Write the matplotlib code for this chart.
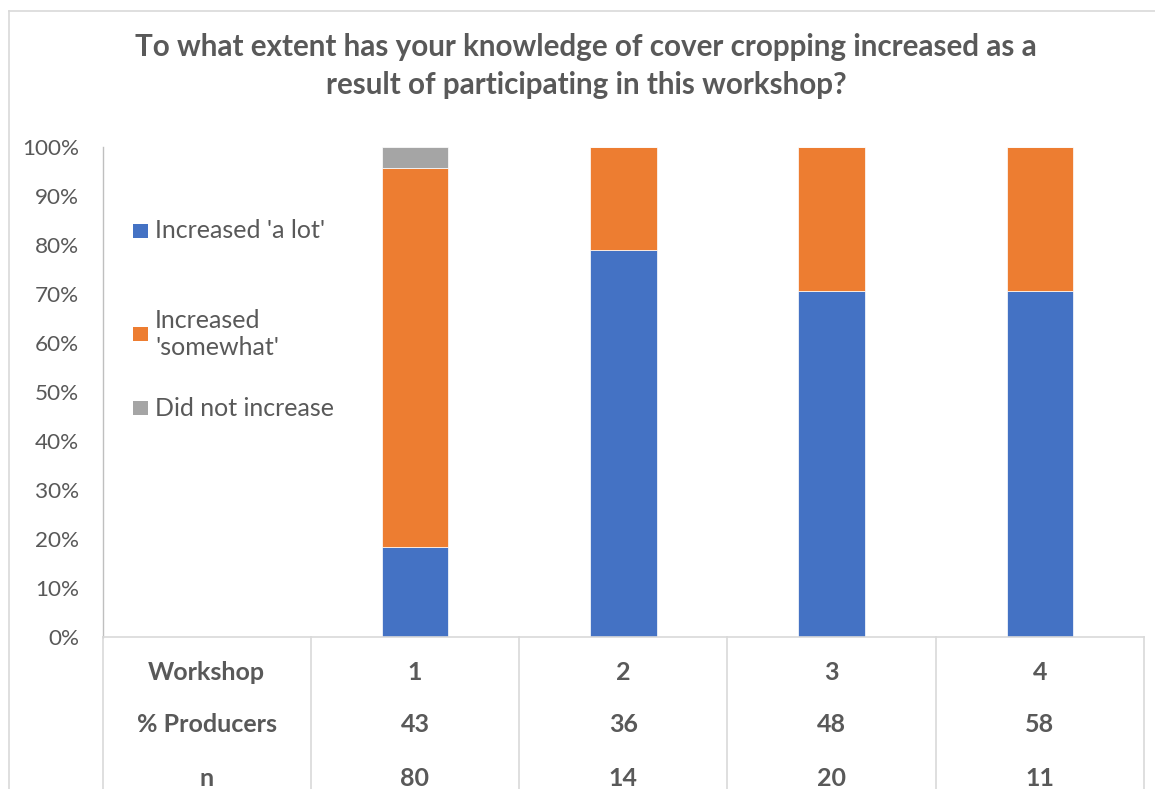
import matplotlib
matplotlib.use("Agg")
import matplotlib.pyplot as plt
from matplotlib.patches import Rectangle
from matplotlib.lines import Line2D
import matplotlib.transforms as mtransforms

plt.rcParams['font.family'] = ['Lato', 'DejaVu Sans']

# ---- data ----
workshops = ["1", "2", "3", "4"]
pct_producers = ["43", "36", "48", "58"]
n_values = ["80", "14", "20", "11"]
row_labels = ["Workshop", "% Producers", "n"]
series_names = ["Increased 'a lot'", "Increased\n'somewhat'", "Did not increase"]
a_lot = [18.4, 79.0, 70.6, 70.6]
somewhat = [77.4, 21.0, 29.4, 29.4]
not_increase = [4.2, 0.0, 0.0, 0.0]
colors = ["#4472C4", "#ED7D31", "#A5A5A5"]
title = ("To what extent has your knowledge of cover cropping increased as a\n"
         "result of participating in this workshop?")
text_color = "#595959"

W, H = 1155, 789
fig = plt.figure(figsize=(W / 100, H / 100), dpi=100)
left, right, bottom_px, top_px = 102.5, 1144, 637, 147
ax = fig.add_axes([left / W, (H - bottom_px) / H, (right - left) / W, (bottom_px - top_px) / H])

# category 0 is the empty first slot holding the row labels / legend
xs = [i + 1 for i in range(len(workshops))]
bw = 0.32
ax.bar(xs, a_lot, bw, color=colors[0], edgecolor="white", linewidth=0.5)
ax.bar(xs, somewhat, bw, bottom=a_lot, color=colors[1], edgecolor="white", linewidth=0.5)
bottoms3 = [a + s for a, s in zip(a_lot, somewhat)]
ax.bar(xs, not_increase, bw, bottom=bottoms3, color=colors[2], edgecolor="white", linewidth=0.5)

ax.set_xlim(-0.5, len(workshops) + 0.5)
ax.set_ylim(0, 100)
ax.set_yticks(range(0, 101, 10))
ax.set_yticklabels([f"{v}%" for v in range(0, 101, 10)], fontsize=16.2, color=text_color)
ax.tick_params(axis='y', length=0, pad=17)
ax.set_xticks([])
for s in ["top", "right"]:
    ax.spines[s].set_visible(False)
ax.spines["left"].set_color("#bfbfbf")
ax.spines["left"].set_linewidth(1.0)
ax.spines["bottom"].set_color("#d9d9d9")
ax.spines["bottom"].set_linewidth(1.2)

# multi-level category table below axis
trans = mtransforms.blended_transform_factory(ax.transData, ax.transAxes)
row_y = [(bottom_px - 672) / (bottom_px - top_px),
         (bottom_px - 725) / (bottom_px - top_px),
         (bottom_px - 778) / (bottom_px - top_px)]
rows = [workshops, pct_producers, n_values]
for ry, lab, vals in zip(row_y, row_labels, rows):
    ax.text(0, ry, lab, transform=trans, ha="center", va="center",
            fontsize=18, fontweight="bold", color=text_color, clip_on=False)
    for x, v in zip(xs, vals):
        ax.text(x, ry, v, transform=trans, ha="center", va="center",
                fontsize=18, fontweight="bold", color=text_color, clip_on=False)
ybot = -(H - bottom_px) / (bottom_px - top_px)
for k in range(len(workshops) + 2):
    ax.add_line(Line2D([k - 0.5, k - 0.5], [0, ybot], transform=trans,
                       color="#d9d9d9", linewidth=1.2, clip_on=False))

# chart area border (top and left visible)
fig.add_artist(Line2D([9 / W, 1.0], [1 - 11 / H, 1 - 11 / H], color="#d9d9d9", linewidth=1.2))
fig.add_artist(Line2D([9 / W, 9 / W], [0, 1 - 11 / H], color="#d9d9d9", linewidth=1.2))

# legend (manual, in the empty first slot)
leg_y = [231, 334, 408]
for c, name, ly in zip(colors, series_names, leg_y):
    fig.add_artist(Rectangle((133 / W, 1 - (ly + 7) / H), 15 / W, 14 / H,
                             facecolor=c, edgecolor="none", transform=fig.transFigure))
    fig.text(155 / W, 1 - ly / H, name, ha="left", va="center", fontsize=18,
             color=text_color, linespacing=1.2)

fig.text(586 / W, 1 - 66 / H, title, ha="center", va="center", fontsize=21.3,
         fontweight="bold", color=text_color, linespacing=1.45)

fig.savefig("out.png", dpi=100)
